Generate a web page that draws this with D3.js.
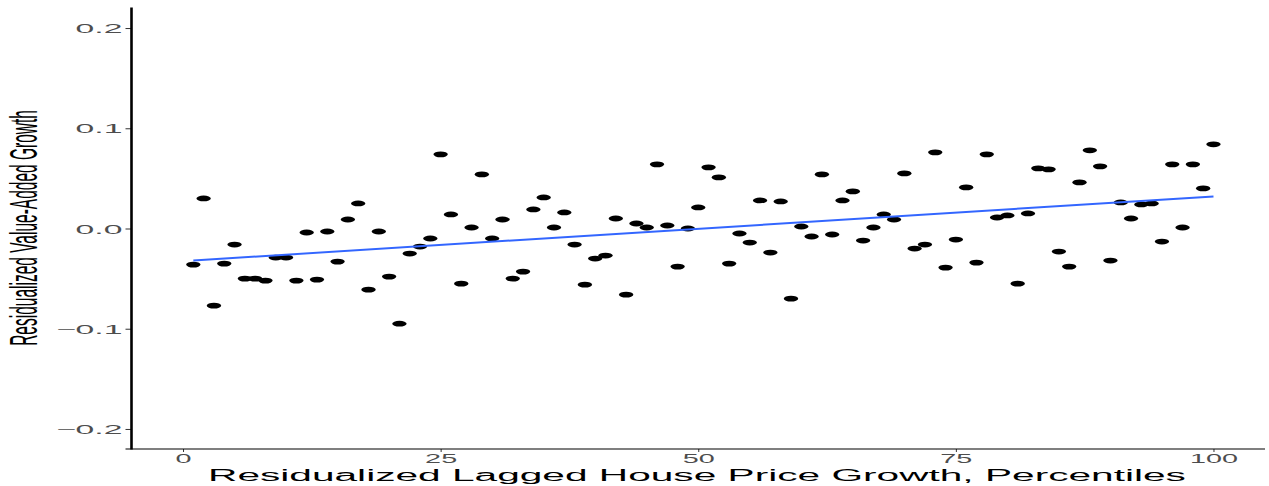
<!DOCTYPE html>
<html>
<head>
<meta charset="utf-8">
<script src="https://cdn.jsdelivr.net/npm/d3@7"></script>
<style>
  body { margin: 0; background: #fff; }
  text { font-family: "Liberation Sans", Arial, Helvetica, sans-serif; }
</style>
</head>
<body>
<svg id="chart" width="1269" height="486"></svg>
<script>
// percentiles on the x axis
const percentiles = [1,2,3,4,5,6,7,8,9,10,11,12,13,14,15,16,17,18,19,20,
  21,22,23,24,25,26,27,28,29,30,31,32,33,34,35,36,37,38,39,40,
  41,42,43,44,45,46,47,48,49,50,51,52,53,54,55,56,57,58,59,60,
  61,62,63,64,65,66,67,68,69,70,71,72,73,74,75,76,77,78,79,80,
  81,82,83,84,85,86,87,88,89,90,91,92,93,94,95,96,97,98,99,100]

// residualized value-added growth, one per percentile
const growth = [-0.036,0.030,-0.077,-0.035,-0.016,-0.050,-0.050,-0.052,-0.029,-0.029,
  -0.052,-0.004,-0.051,-0.003,-0.033,0.009,0.025,-0.061,-0.003,-0.048,
  -0.095,-0.025,-0.018,-0.010,0.074,0.014,-0.055,0.001,0.054,-0.010,
  0.009,-0.050,-0.043,0.019,0.031,0.001,0.016,-0.016,-0.056,-0.030,
  -0.027,0.010,-0.066,0.005,0.001,0.064,0.003,-0.038,0.000,0.021,
  0.061,0.051,-0.035,-0.005,-0.014,0.028,-0.024,0.027,-0.070,0.002,
  -0.008,0.054,-0.006,0.028,0.037,-0.012,0.001,0.014,0.009,0.055,
  -0.020,-0.016,0.076,-0.039,-0.011,0.041,-0.034,0.074,0.011,0.013,
  -0.055,0.015,0.060,0.059,-0.023,-0.038,0.046,0.078,0.062,-0.032,
  0.026,0.010,0.024,0.025,-0.013,0.064,0.001,0.064,0.040,0.084]

const xTicks = [0, 25, 50, 75, 100]
const yTicks = [-0.2, -0.1, 0.0, 0.1, 0.2]

const svg = d3.select("#chart")

const x = d3.scaleLinear().domain([-5, 105]).range([131.5, 1265])
const y = d3.scaleLinear().domain([-0.22, 0.22]).range([449, 8])

const labelColor = "#4d4d4d"
const stretch = 2.7   // the figure is stretched sideways

// points
svg.append("g").selectAll("ellipse")
  .data(percentiles)
  .join("ellipse")
  .attr("cx", (d) => x(d))
  .attr("cy", (d, i) => y(growth[i]))
  .attr("rx", 7.2)
  .attr("ry", 2.9)
  .attr("fill", "#000")

// least squares line through the points
const mx = d3.mean(percentiles)
const my = d3.mean(growth)
let sxy = 0, sxx = 0
percentiles.forEach((d, i) => {
  sxy += (d - mx) * (growth[i] - my)
  sxx += (d - mx) * (d - mx)
})
const slope = sxy / sxx
const intercept = my - slope * mx
const ends = d3.extent(percentiles)

svg.append("line")
  .attr("x1", x(ends[0])).attr("y1", y(intercept + slope * ends[0]))
  .attr("x2", x(ends[1])).attr("y2", y(intercept + slope * ends[1]))
  .attr("stroke", "#3366FF")
  .attr("stroke-width", 2)

// axes
const yAxis = d3.axisLeft(y).tickValues(yTicks).tickSize(6).tickPadding(0)
  .tickFormat((d) => d3.format(".1f")(d).replace("-", "\u2212"))
const yg = svg.append("g").attr("transform", `translate(${x.range()[0]},0)`).call(yAxis)
yg.select(".domain").remove()
yg.selectAll(".tick line").attr("stroke", "#333").attr("stroke-width", 1)
// text inside tick groups is already translated, so only shift and stretch
yg.selectAll(".tick text")
  .attr("x", 0).attr("dy", "0.36em")
  .attr("transform", `translate(-9,0) scale(${stretch},1)`)
  .attr("fill", labelColor).attr("font-size", 12.5)

const xAxis = d3.axisBottom(x).tickValues(xTicks).tickSize(3).tickPadding(0)
const xg = svg.append("g").attr("transform", `translate(0,${y.range()[0]})`).call(xAxis)
xg.select(".domain").remove()
xg.selectAll(".tick line").attr("stroke", "#333").attr("stroke-width", 1)
xg.selectAll(".tick text")
  .attr("y", 0).attr("dy", 0)
  .attr("transform", `translate(0,14) scale(${stretch - 0.3},1)`)
  .attr("fill", labelColor).attr("font-size", 12)

// axis lines
svg.append("line")
  .attr("x1", x.range()[0]).attr("x2", x.range()[0])
  .attr("y1", y.range()[1] - 0.5).attr("y2", y.range()[0] + 0.5)
  .attr("stroke", "#000").attr("stroke-width", 2.6)
svg.append("line")
  .attr("x1", x.range()[0] - 6).attr("x2", x.range()[1])
  .attr("y1", y.range()[0]).attr("y2", y.range()[0])
  .attr("stroke", "#000").attr("stroke-width", 1.2)

// axis titles
svg.append("text")
  .attr("transform", "translate(697,481) scale(2.54,1)")
  .attr("text-anchor", "middle")
  .attr("font-size", 16)
  .attr("fill", "#000")
  .text("Residualized Lagged House Price Growth, Percentiles")

svg.append("text")
  .attr("transform", "translate(37,228) scale(2.5,1) rotate(-90)")
  .attr("text-anchor", "middle")
  .attr("font-size", 15.5)
  .attr("fill", "#000")
  .text("Residualized Value-Added Growth")
</script>
</body>
</html>
